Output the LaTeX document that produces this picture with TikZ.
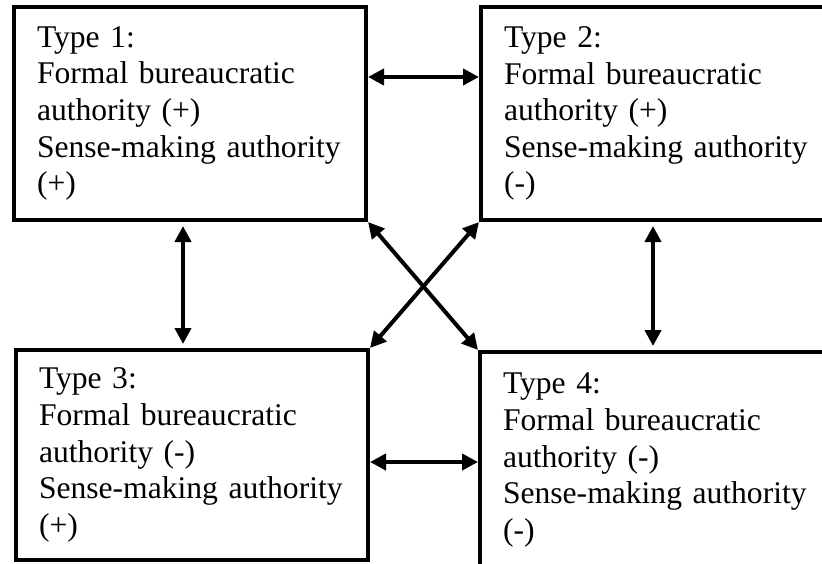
\documentclass[tikz,border=0pt]{standalone}
\usepackage{fontspec}
\setmainfont{Liberation Serif}
\usetikzlibrary{arrows.meta}

\tikzset{
	typebox/.style={draw=black, line width=4pt, anchor=north west, align=left,
		inner xsep=23pt, inner ysep=0pt, minimum height=213pt,
		font=\fontsize{31.6}{36.6}\selectfont},
	twoway/.style={line width=4pt, {Triangle[length=16pt,width=16pt]}-{Triangle[length=16pt,width=16pt]}},
}

\begin{document}
\begin{tikzpicture}[x=1pt,y=1pt,yscale=-1,xscale=1]
		% Fix the size of the picture
		\useasboundingbox (0,0) rectangle (822,563);
		\clip (0,0) rectangle (822,563);

		% The four type boxes
		\node[typebox, text width=306pt] (t1) at (12,5) {Type 1:\\Formal bureaucratic\\authority (+)\\Sense-making authority\\(+)};
		\node[typebox, text width=354pt] (t2) at (479,5) {Type 2:\\Formal bureaucratic\\authority (+)\\Sense-making authority\\(-)};
		\node[typebox, text width=306pt, minimum height=210pt] (t3) at (14,348) {Type 3:\\Formal bureaucratic\\authority (-)\\Sense-making authority\\(+)};
		\node[typebox, text width=354pt, minimum height=216pt] (t4) at (478,350) {Type 4:\\Formal bureaucratic\\authority (-)\\Sense-making authority\\(-)};

		% Horizontal arrows between the boxes
		\draw[twoway] ([yshift=-36.5pt]t1.east) -- ([yshift=-36.5pt]t1.east -| t2.west);
		\draw[twoway] ([yshift=7pt]t3.east) -- ([yshift=7pt]t3.east -| t4.west);

		% Vertical arrows between the boxes
		\draw[twoway, shorten <=4pt, shorten >=4pt] ([xshift=-7pt]t1.south) -- ([xshift=-7pt]t1.south |- t3.north);
		\draw[twoway, shorten <=4pt, shorten >=4pt] ([xshift=174pt]t2.south west) -- ([xshift=174pt]t2.south west |- t4.north);

		% Crossing arrows between the corners
		\draw[twoway] (t1.south east) -- (t4.north west);
		\draw[twoway] (t2.south west) -- (t3.north east);
	\end{tikzpicture}
\end{document}
